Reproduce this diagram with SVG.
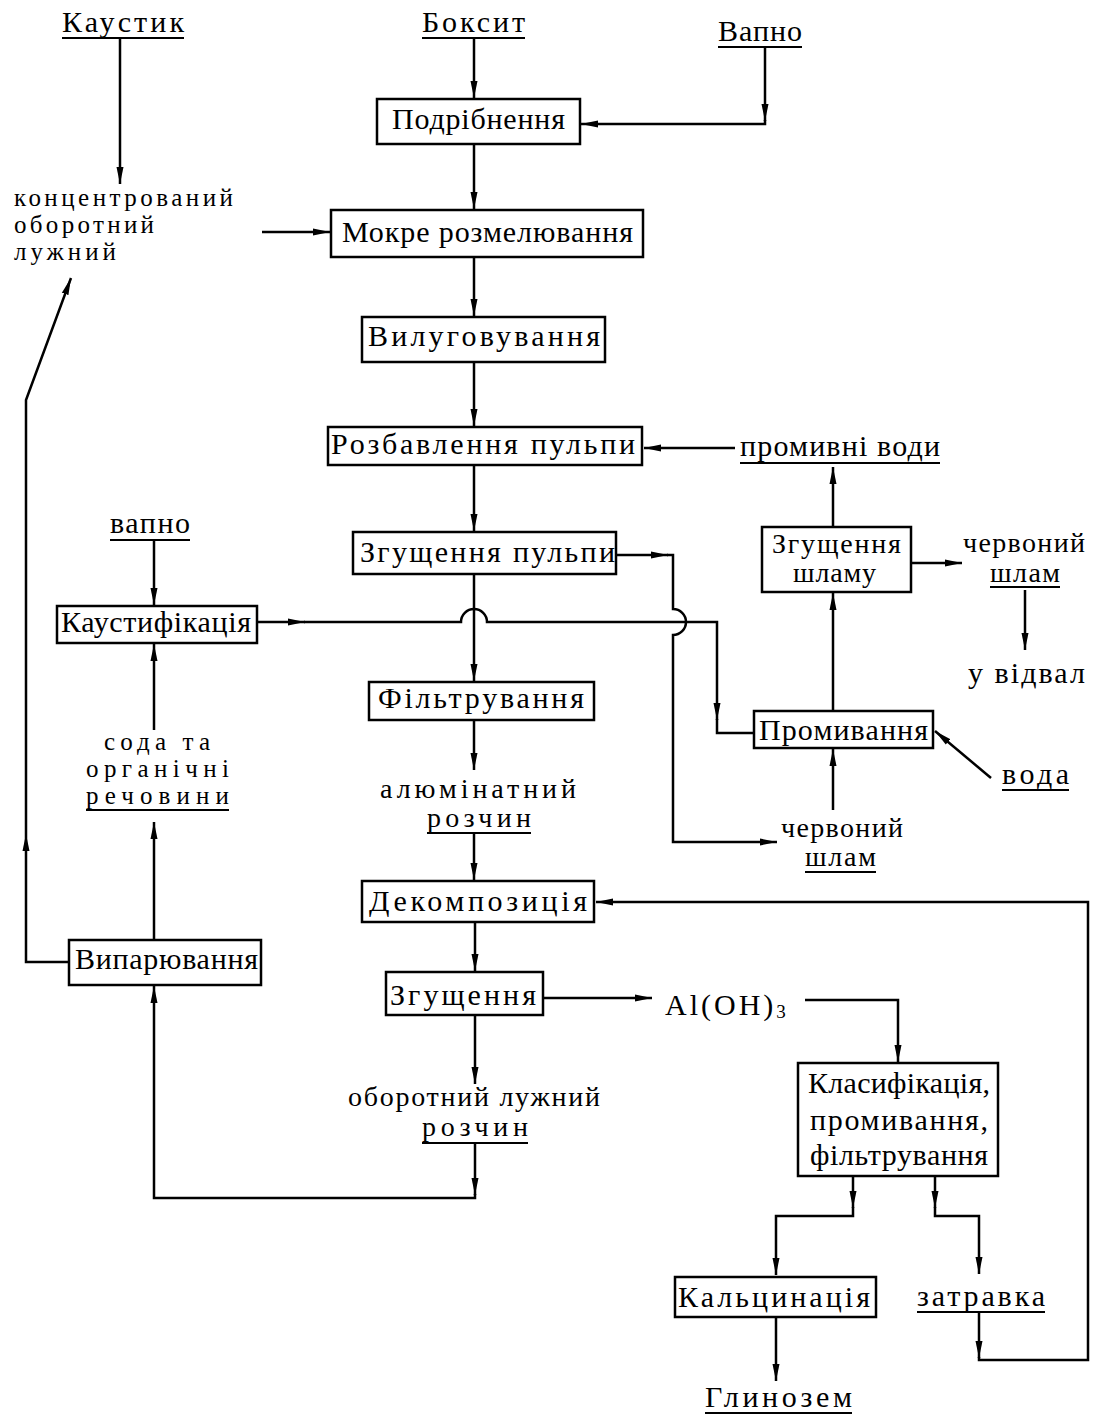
<svg xmlns="http://www.w3.org/2000/svg" width="1095" height="1416" viewBox="0 0 1095 1416">
<defs>
<style>
.box{fill:#fff;stroke:#000;stroke-width:2.5}
.t{font-family:"Liberation Serif","Times New Roman",serif;font-size:30px;fill:#000}
.m{font-size:28px}
.s{font-size:25px}
.ln{fill:none;stroke:#000;stroke-width:2.5}
.ul{stroke:#000;stroke-width:2}
</style>
<marker id="ah" markerUnits="userSpaceOnUse" markerWidth="18" markerHeight="8" refX="17" refY="4" orient="auto">
<path d="M0,0.5 L17,4 L0,7.5 z" fill="#000"/>
</marker>
</defs>
<rect width="1095" height="1416" fill="#fff"/>

<g id="connectors">
<path class="ln" d="M120,38 V184" marker-end="url(#ah)"/>
<path class="ln" d="M262,232 H330" marker-end="url(#ah)"/>
<path class="ln" d="M69,962 H26 V834" marker-end="url(#ah)"/>
<path class="ln" d="M26,834 V400 L71,278" marker-end="url(#ah)"/>
<path class="ln" d="M474,38 V98" marker-end="url(#ah)"/>
<path class="ln" d="M765,47 V121" marker-end="url(#ah)"/>
<path class="ln" d="M765,120 V124 H581" marker-end="url(#ah)"/>
<path class="ln" d="M474,144 V209" marker-end="url(#ah)"/>
<path class="ln" d="M474,257 V316" marker-end="url(#ah)"/>
<path class="ln" d="M474,362 V426" marker-end="url(#ah)"/>
<path class="ln" d="M735,448 H644" marker-end="url(#ah)"/>
<path class="ln" d="M474,465 V531" marker-end="url(#ah)"/>
<path class="ln" d="M474,574 V681" marker-end="url(#ah)"/>
<path class="ln" d="M474,720 V770" marker-end="url(#ah)"/>
<path class="ln" d="M474,833 V880" marker-end="url(#ah)"/>
<path class="ln" d="M475,922 V971" marker-end="url(#ah)"/>
<path class="ln" d="M543,998 H652" marker-end="url(#ah)"/>
<path class="ln" d="M805,1000 H898 V1062" marker-end="url(#ah)"/>
<path class="ln" d="M475,1015 V1084" marker-end="url(#ah)"/>
<path class="ln" d="M475,1143 V1195" marker-end="url(#ah)"/>
<path class="ln" d="M475,1194 V1198 H154 V986" marker-end="url(#ah)"/>
<path class="ln" d="M154,940 V822" marker-end="url(#ah)"/>
<path class="ln" d="M154,730 V644" marker-end="url(#ah)"/>
<path class="ln" d="M154,540 V605" marker-end="url(#ah)"/>
<path class="ln" d="M257,622 H305" marker-end="url(#ah)"/>
<path class="ln" d="M304,622 H461 A13,13 0 0 1 487,622 H717 V720" marker-end="url(#ah)"/>
<path class="ln" d="M717,719 V733 H754"/>
<path class="ln" d="M616,555 H668" marker-end="url(#ah)"/>
<path class="ln" d="M667,555 H673 V609 A13,13 0 0 1 673,635 V842 H777" marker-end="url(#ah)"/>
<path class="ln" d="M833,810 V749" marker-end="url(#ah)"/>
<path class="ln" d="M833,711 V593" marker-end="url(#ah)"/>
<path class="ln" d="M833,527 V467" marker-end="url(#ah)"/>
<path class="ln" d="M911,563 H962" marker-end="url(#ah)"/>
<path class="ln" d="M1025,590 V650" marker-end="url(#ah)"/>
<path class="ln" d="M991,778 L935,731" marker-end="url(#ah)"/>
<path class="ln" d="M853,1176 V1208" marker-end="url(#ah)"/>
<path class="ln" d="M853,1207 V1216 H776 V1275" marker-end="url(#ah)"/>
<path class="ln" d="M935,1176 V1208" marker-end="url(#ah)"/>
<path class="ln" d="M935,1207 V1216 H979 V1274" marker-end="url(#ah)"/>
<path class="ln" d="M776,1317 V1381" marker-end="url(#ah)"/>
<path class="ln" d="M979,1312 V1358" marker-end="url(#ah)"/>
<path class="ln" d="M979,1357 V1360 H1088 V902 H596" marker-end="url(#ah)"/>
</g>

<g id="n-kaustyk"><text class="t" x="62" y="32" textLength="122" lengthAdjust="spacing">Каустик</text><line class="ul" x1="62" y1="38" x2="184" y2="38"/></g>
<g id="n-boksyt"><text class="t" x="422" y="32" textLength="103" lengthAdjust="spacing">Боксит</text><line class="ul" x1="422" y1="38" x2="525" y2="38"/></g>
<g id="n-vapno-top"><text class="t" x="718" y="41" textLength="84" lengthAdjust="spacing">Вапно</text><line class="ul" x1="718" y1="47" x2="802" y2="47"/></g>
<g id="n-podribnennia"><rect class="box" x="377" y="99" width="203" height="45"/><text class="t" x="392" y="129" textLength="173" lengthAdjust="spacing">Подрібнення</text></g>
<g id="n-konts"><text class="t s" x="14" y="206" textLength="219" lengthAdjust="spacing">концентрований</text><text class="t s" x="14" y="233" textLength="140" lengthAdjust="spacing">оборотний</text><text class="t s" x="14" y="260" textLength="102" lengthAdjust="spacing">лужний</text></g>
<g id="n-mokre"><rect class="box" x="331" y="210" width="312" height="47"/><text class="t" x="342" y="242" textLength="291" lengthAdjust="spacing">Мокре розмелювання</text></g>
<g id="n-vyluh"><rect class="box" x="362" y="317" width="243" height="45"/><text class="t" x="368" y="346" textLength="232" lengthAdjust="spacing">Вилуговування</text></g>
<g id="n-rozbav"><rect class="box" x="328" y="427" width="314" height="38"/><text class="t" x="331" y="454" textLength="304" lengthAdjust="spacing">Розбавлення пульпи</text></g>
<g id="n-promyvni"><text class="t" x="740" y="456" textLength="200" lengthAdjust="spacing">промивні води</text><line class="ul" x1="740" y1="463" x2="940" y2="463"/></g>
<g id="n-zgusch-pulpy"><rect class="box" x="353" y="532" width="263" height="42"/><text class="t" x="360" y="562" textLength="255" lengthAdjust="spacing">Згущення пульпи</text></g>
<g id="n-zgusch-shlamu"><rect class="box" x="762" y="527" width="149" height="65"/><text class="t m" x="772" y="553" textLength="129" lengthAdjust="spacing">Згущення</text><text class="t m" x="793" y="582" textLength="83" lengthAdjust="spacing">шламу</text></g>
<g id="n-chervonyi-1"><text class="t m" x="963" y="552" textLength="122" lengthAdjust="spacing">червоний</text><text class="t m" x="990" y="582" textLength="70" lengthAdjust="spacing">шлам</text><line class="ul" x1="990" y1="587" x2="1060" y2="587"/></g>
<g id="n-vidval"><text class="t" x="968" y="683" textLength="117" lengthAdjust="spacing">у відвал</text></g>
<g id="n-vapno-left"><text class="t" x="110" y="533" textLength="80" lengthAdjust="spacing">вапно</text><line class="ul" x1="110" y1="540" x2="190" y2="540"/></g>
<g id="n-kaustyf"><rect class="box" x="57" y="606" width="200" height="37"/><text class="t" x="61" y="632" textLength="190" lengthAdjust="spacing">Каустифікація</text></g>
<g id="n-filtr"><rect class="box" x="369" y="682" width="225" height="38"/><text class="t" x="378" y="708" textLength="206" lengthAdjust="spacing">Фільтрування</text></g>
<g id="n-promyvannia"><rect class="box" x="754" y="711" width="179" height="37"/><text class="t" x="759" y="740" textLength="169" lengthAdjust="spacing">Промивання</text></g>
<g id="n-voda"><text class="t" x="1002" y="784" textLength="67" lengthAdjust="spacing">вода</text><line class="ul" x1="1002" y1="790" x2="1069" y2="790"/></g>
<g id="n-soda"><text class="t s" x="104" y="750" textLength="106" lengthAdjust="spacing">сода та</text><text class="t s" x="86" y="777" textLength="143" lengthAdjust="spacing">органічні</text><text class="t s" x="86" y="804" textLength="143" lengthAdjust="spacing">речовини</text><line class="ul" x1="86" y1="810" x2="229" y2="810"/></g>
<g id="n-alumin"><text class="t m" x="380" y="798" textLength="196" lengthAdjust="spacing">алюмінатний</text><text class="t m" x="427" y="827" textLength="104" lengthAdjust="spacing">розчин</text><line class="ul" x1="427" y1="833" x2="531" y2="833"/></g>
<g id="n-chervonyi-2"><text class="t m" x="781" y="837" textLength="122" lengthAdjust="spacing">червоний</text><text class="t m" x="805" y="866" textLength="71" lengthAdjust="spacing">шлам</text><line class="ul" x1="805" y1="872" x2="876" y2="872"/></g>
<g id="n-dekomp"><rect class="box" x="362" y="881" width="232" height="41"/><text class="t" x="369" y="911" textLength="218" lengthAdjust="spacing">Декомпозиція</text></g>
<g id="n-vypar"><rect class="box" x="69" y="940" width="192" height="45"/><text class="t" x="75" y="969" textLength="183" lengthAdjust="spacing">Випарювання</text></g>
<g id="n-zgusch"><rect class="box" x="386" y="972" width="157" height="43"/><text class="t" x="390" y="1005" textLength="146" lengthAdjust="spacing">Згущення</text></g>
<g id="n-aloh"><text class="t" x="665" y="1015" letter-spacing="3">Al(OH)<tspan font-size="19" dy="3">3</tspan></text></g>
<g id="n-klasyf"><rect class="box" x="798" y="1063" width="200" height="113"/><text class="t" x="808" y="1093" textLength="182" lengthAdjust="spacing">Класифікація,</text><text class="t" x="810" y="1130" textLength="178" lengthAdjust="spacing">промивання,</text><text class="t" x="810" y="1165" textLength="178" lengthAdjust="spacing">фільтрування</text></g>
<g id="n-oborotnyi"><text class="t m" x="348" y="1106" textLength="252" lengthAdjust="spacing">оборотний лужний</text><text class="t m" x="422" y="1136" textLength="106" lengthAdjust="spacing">розчин</text><line class="ul" x1="422" y1="1143" x2="528" y2="1143"/></g>
<g id="n-kaltsyn"><rect class="box" x="675" y="1277" width="201" height="40"/><text class="t" x="678" y="1307" textLength="192" lengthAdjust="spacing">Кальцинація</text></g>
<g id="n-zatravka"><text class="t" x="917" y="1306" textLength="128" lengthAdjust="spacing">затравка</text><line class="ul" x1="917" y1="1312" x2="1045" y2="1312"/></g>
<g id="n-hlynozem"><text class="t" x="705" y="1407" textLength="147" lengthAdjust="spacing">Глинозем</text><line class="ul" x1="705" y1="1413" x2="852" y2="1413"/></g>
</svg>
